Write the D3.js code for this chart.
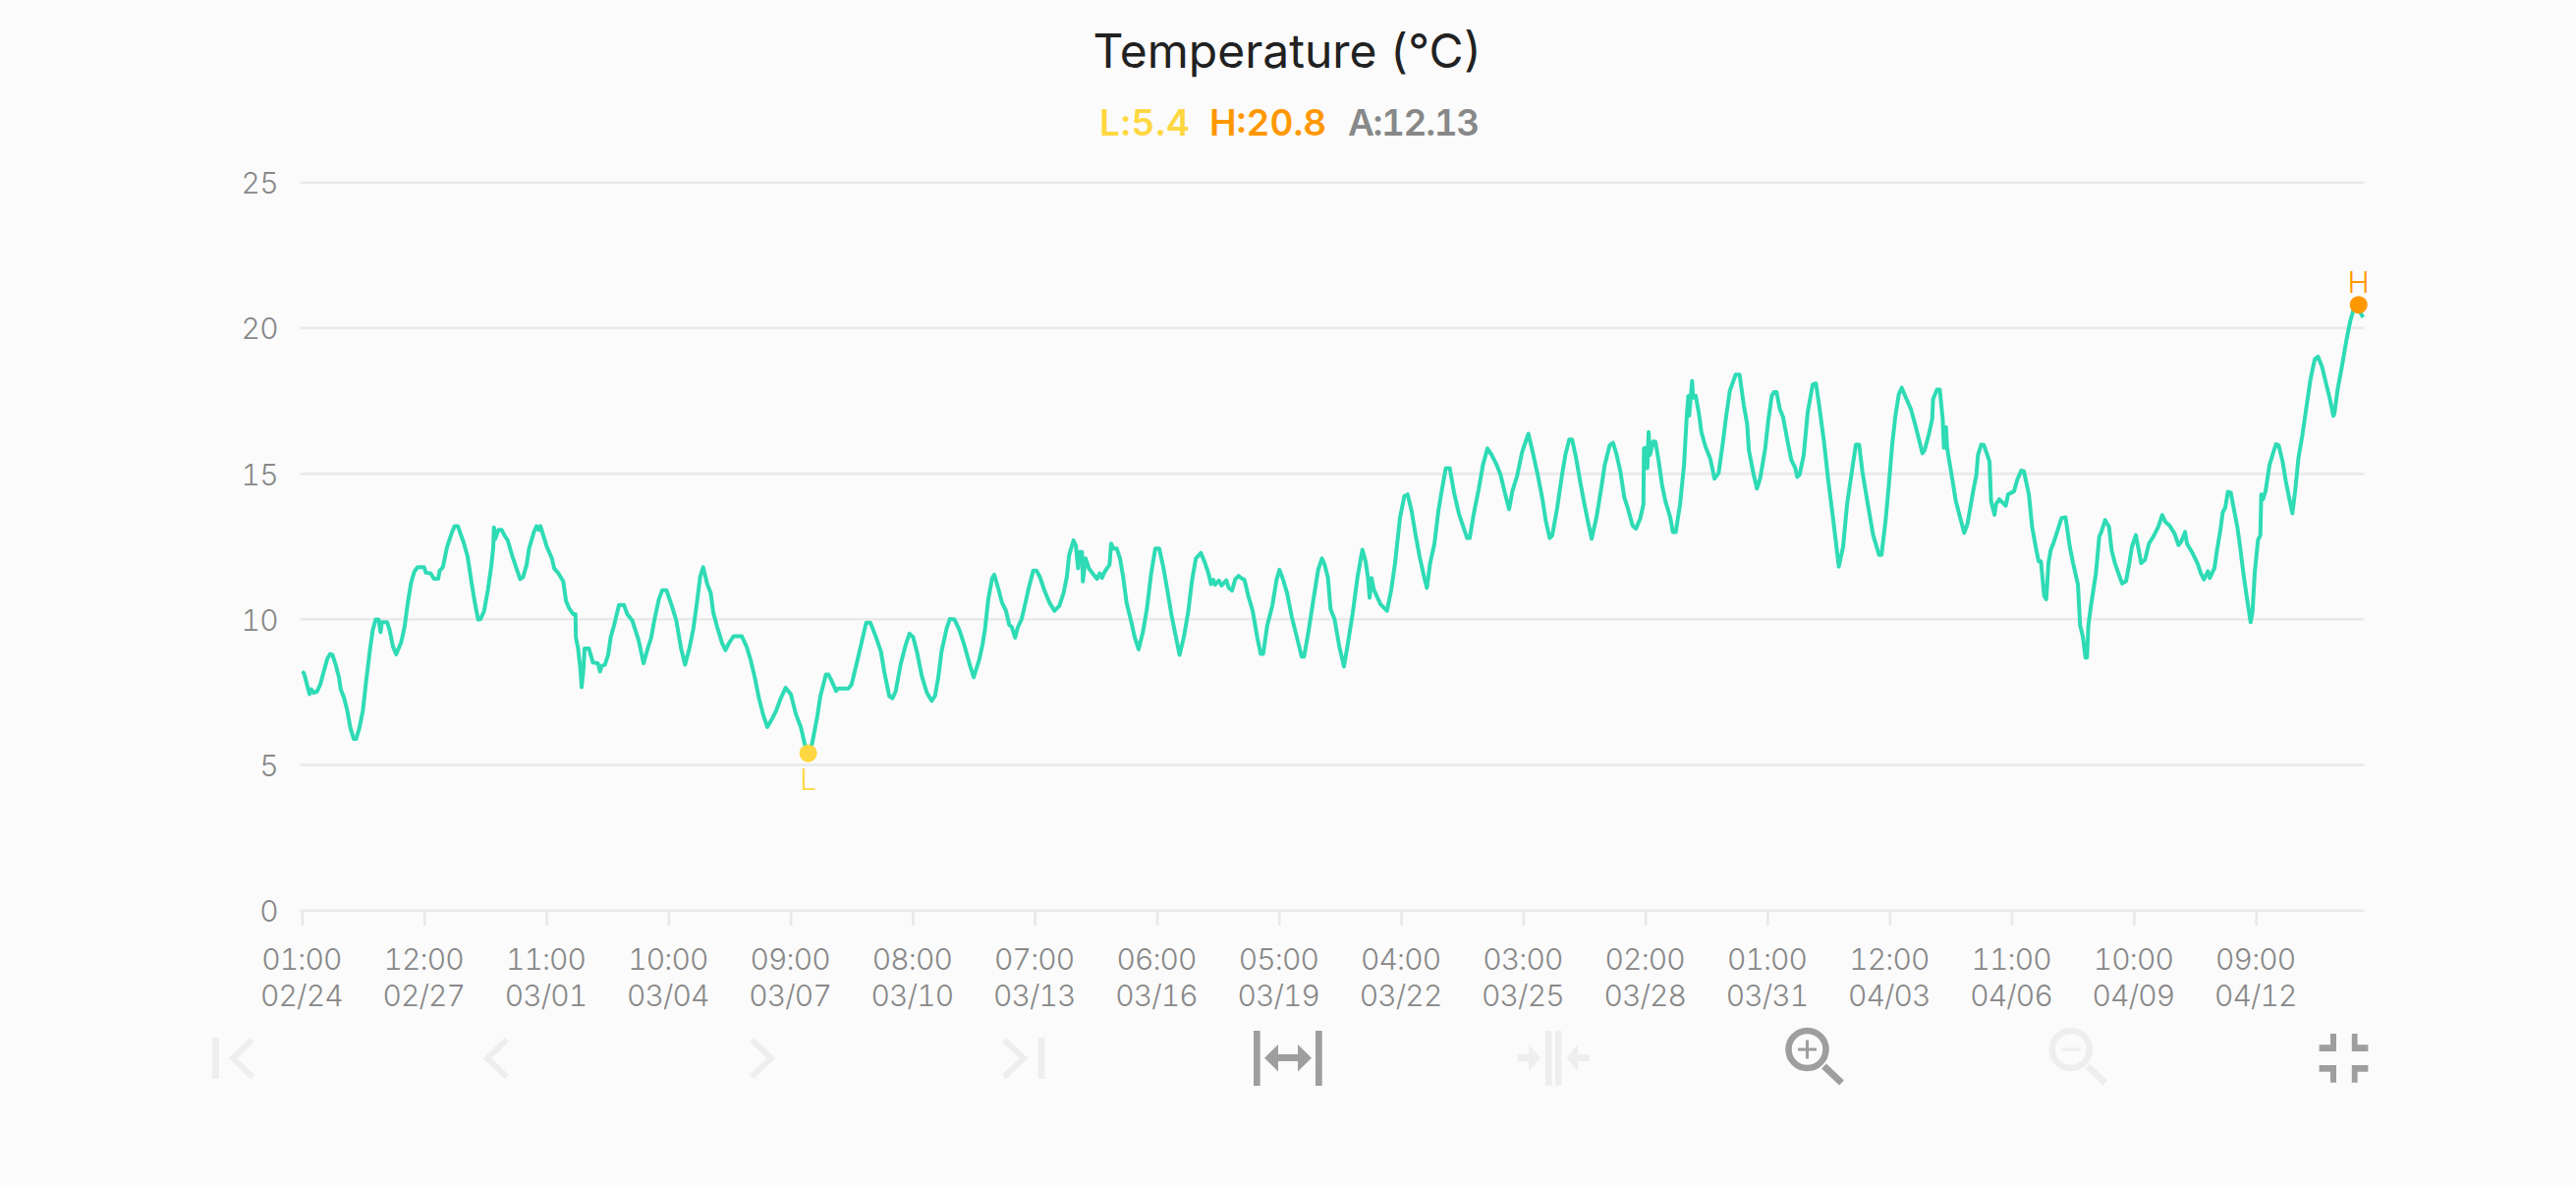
<!DOCTYPE html>
<html>
<head>
<meta charset="utf-8">
<script src="https://cdn.jsdelivr.net/npm/d3@7/dist/d3.min.js"></script>
<style>
html,body{margin:0;padding:0;background:#fbfbfb;}
svg{display:block;}
text{font-family:Inter,"Noto Sans",sans-serif;font-variant-numeric:tabular-nums;}
</style>
</head>
<body>
<script>
const hours = [0,1.1,4.4,5.3,6.8,8.7,10.6,12.6,14.8,16.4,17.7,19.6,21.5,22.5,24.4,26.3,28.2,30.1,31.4,33.3,35.4,37.3,39.6,41.1,42.8,44.5,45.7,46.4,49.5,51,52.9,54.8,57.7,59.6,61.5,63.4,65.3,67.2,71,72,74.8,76.7,79.2,80,81.9,84.3,87.2,88.7,90.6,93.9,96.3,98.6,100.5,102.4,103.8,105.9,108.1,110,111.2,111.6,112.3,114.2,116.1,117.7,119.6,122.4,125.3,126.8,128.5,130.6,132,134.8,136.3,137.6,138.6,142.4,145.3,146.6,149.1,151.9,153.5,155.4,157.6,159,159.2,160.5,161.8,162.6,163.7,164.3,166.8,169.1,172,173.3,174.2,176.1,178,179.5,181.4,184.3,187.2,189.1,192,
195.7,198.6,201,202.9,205.2,207.5,209.4,211.9,214.7,217.6,220.4,222.7,225.2,227.5,229.6,231.5,233.2,235.7,237.6,239.1,241.4,244.3,246.2,248.1,250.9,255.7,258.5,260.8,263.3,265.6,268,270.5,273.8,275.7,278.5,281.2,284.2,287.1,290,292.4,294.3,296.6,299.5,301.4,304.6,306.1,308,310.5,311.5,317.6,319.5,322.3,325.2,328,330.5,333.7,336.6,338.5,341.4,343.3,345.2,348,350.9,353.2,355.3,357.5,360.4,363.3,366.1,368,369.9,371.8,374.7,376.6,379.4,382.3,385.1,388,390.5,393.7,
395.6,397.1,399,401.3,402.5,404.7,407,409.3,411.2,412.7,414.6,416.2,418.4,420.4,422.3,425.1,427,428.9,431.8,434.6,437.5,440.3,442.8,444.7,446,448.5,449.9,451.2,452.1,453.5,454,455.6,457.5,460.3,462.2,463.8,465.1,466.4,468,469.5,470.4,471.8,473.7,475.6,477.5,479.4,482.2,484.1,486.4,488.9,491.2,493.7,496.1,498.4,500.7,503.2,505.6,507.9,510.2,512.7,515.2,517.5,519.7,522.6,524.7,527,528.5,529.8,530.8,533.1,534.6,537.4,538.8,540.7,542.6,544.5,546,547.9,550.2,552.7,555.5,557.4,558.8,561.2,564.1,566.6,568.3,570.4,572.7,575.5,578.4,581.2,582.6,585.1,587.9,590.8,593,594.6,596.5,598,600.3,603.1,605.8,607.9,610.8,613.6,616.5,618.4,
619.9,620.7,621.8,623.2,627,630.8,633.3,635.5,638.4,640.9,642.8,645.1,647.3,649.8,652.3,654,655.9,658.4,660.7,662.6,665,667.3,669.8,672.7,674.6,677.4,678.9,681.2,684.1,686.6,689.2,691.7,694.6,696.8,699.3,701.8,703.7,706.4,709.4,713,715.5,718.4,721.2,723.1,725.4,726.9,729.8,732.6,734.5,736.8,738.4,740.6,743.1,745.6,747.9,749.8,752.6,755.1,757.4,760.3,762.2,764.1,766.5,768.8,770.7,773.6,775.5,778,779.9,780.2,781.6,782.2,782.9,783.7,785.6,786.9,788.8,790.7,792.6,795.5,797,798.7,801.2,803.5,805,806,806.5,808.2,808.8,810.3,812.2,813.6,816,818.7,
821.2,823.6,825.9,827.8,830.1,833.5,835.8,838.3,840.2,841.2,844,845.9,847.8,850.7,852.6,854.5,855.8,857.3,859.2,861.1,863.6,865.9,868.2,869.3,870.7,873.1,875.4,878.3,880.2,882.1,884.9,887.2,890.3,893.5,896,898.3,901.1,903.4,905.3,907.2,909.7,912,913.5,916.9,918.3,920.7,922.6,924.5,926.4,928.4,930.1,932.5,935.4,938.3,940.2,942.1,943.4,945.9,947.8,948.3,950.6,952.2,953.9,954.6,955.8,956.5,959.2,961.5,964,966.4,968.3,971.6,973.5,974.4,976.3,977.9,981.1,982,984,984.9,986.8,990.6,991.9,995.4,997.3,999.6,1001.1,
1004,1005.9,1008.3,1009.7,1011,1012.9,1014.1,1015.4,1016.7,1018.2,1020.7,1023,1025.3,1027.8,1029.7,1032.5,1033.8,1035.4,1036.9,1037.8,1038.6,1040.1,1043,1044.9,1046.4,1048.3,1050.6,1052.1,1054,1056.3,1058.2,1060.5,1062.4,1063.9,1066.2,1069.3,1071.5,1073.8,1076.3,1079.2,1081.5,1083.4,1085.8,1088.7,1091,1092.5,1094.8,1095.9,1099.2,1102,1103.9,1105.8,1108.1,1109.2,1111.9,1113.4,1115.3,1116.7,1118.2,1119.7,1121.4,1123,1125.2,1126.8,1128.7,1130.6,1132.9,1134,1135.3,1137.2,1138.6,1139.1,1140.1,1141.6,1143.9,1146.2,1147.7,1149.2,1151.5,1153.4,1154.9,1157.2,1158.8,1160.7,1163,1165.2,1167.7,1170.2,1172.1,1174.4,1176.7,1178.6,1181,1181.6,1183.5,1185.8,1188.6,1190.9,1193.4,1195.7,1196.8,1198.3];
const temps = [8.2,8.16,7.43,7.6,7.48,7.52,7.76,8.2,8.66,8.81,8.78,8.44,8.0,7.6,7.31,6.87,6.25,5.89,5.89,6.25,6.87,7.88,9.0,9.62,9.99,9.99,9.56,9.9,9.9,9.62,9.06,8.8,9.22,9.73,10.57,11.25,11.64,11.79,11.79,11.6,11.58,11.39,11.39,11.67,11.79,12.48,12.99,13.2,13.2,12.65,12.15,11.25,10.57,9.99,10.01,10.29,11.02,11.81,12.48,13.16,12.76,13.07,13.07,12.88,12.71,12.15,11.64,11.38,11.45,11.87,12.43,12.99,13.2,13.07,13.2,12.48,12.09,11.75,11.58,11.3,10.63,10.37,10.18,10.18,9.39,9.0,8.33,7.67,8.33,9.0,9.0,8.52,8.49,8.21,8.4,8.44,8.78,9.39,9.79,10.49,10.49,10.18,9.96,
9.28,8.49,9.0,9.34,10.07,10.69,11.0,11.0,10.52,9.96,9.0,8.44,9.0,9.67,10.57,11.47,11.79,11.19,10.91,10.24,9.73,9.17,8.94,9.17,9.42,9.42,9.06,8.61,7.99,7.31,6.75,6.3,6.64,6.87,7.31,7.65,7.43,6.75,6.3,5.69,5.4,5.74,6.64,7.37,8.1,8.1,7.88,7.54,7.62,7.62,7.76,8.44,9.17,9.88,9.88,9.39,8.89,8.21,7.37,7.29,7.54,8.44,9.11,9.51,9.39,8.89,8.04,7.48,7.2,7.37,7.99,8.89,9.67,10.01,9.99,9.62,9.11,8.49,8.01,8.61,
9.11,9.67,10.69,11.42,11.53,11.08,10.57,10.29,9.81,9.73,9.37,9.73,10.01,10.52,11.02,11.67,11.67,11.47,10.97,10.57,10.29,10.46,10.91,11.47,12.2,12.71,12.54,11.75,12.31,12.31,11.3,12.09,11.75,11.53,11.39,11.58,11.42,11.6,11.75,11.87,12.6,12.43,12.43,12.09,11.42,10.57,9.9,9.39,8.97,9.56,10.35,11.58,12.43,12.43,11.81,10.97,10.12,9.45,8.78,9.39,10.24,11.36,12.09,12.28,11.98,11.58,11.21,11.36,11.19,11.33,11.16,11.34,11.08,10.99,11.38,11.49,11.42,11.36,10.8,10.29,9.34,8.81,8.81,9.79,10.46,11.36,11.7,11.36,10.91,10.07,9.39,8.72,8.72,9.56,10.63,11.7,12.09,11.87,11.42,10.35,10.01,9.06,8.38,9.11,10.18,11.42,12.39,11.98,
11.36,10.74,11.42,11.02,10.52,10.29,11.02,11.93,13.5,14.23,14.29,13.73,12.94,12.15,11.48,11.08,11.93,12.6,13.73,14.4,15.19,15.19,14.35,13.61,13.28,12.79,12.79,13.61,14.46,15.3,15.87,15.64,15.3,14.97,14.35,13.78,14.4,14.91,15.75,16.37,15.75,14.97,14.12,13.39,12.79,12.88,13.84,14.97,15.64,16.18,16.18,15.59,14.74,13.95,13.28,12.77,13.5,14.4,15.3,15.98,16.06,15.7,15.08,14.18,13.84,13.22,13.11,13.45,13.95,15.87,15.89,15.19,16.43,15.64,16.11,16.09,15.42,14.63,14.07,13.5,13,13,13.95,15.3,16.88,17.67,16.99,18.18,17.61,17.67,17.05,16.43,15.92,15.53,
14.83,15.02,15.98,16.88,17.84,18.4,18.4,17.33,16.71,15.81,14.97,14.49,14.85,15.87,16.88,17.67,17.8,17.8,17.22,16.94,16.15,15.47,15.19,14.89,14.97,15.64,17.11,18.06,18.1,17.33,16.09,14.85,13.39,11.81,12.49,13.95,15.08,16,16,15.08,14.18,13.39,12.88,12.21,12.21,13.39,14.63,15.98,16.99,17.73,17.95,17.61,17.22,16.6,16.15,15.7,15.81,16.37,16.88,17.56,17.89,17.89,16.88,15.89,16.6,15.87,14.91,14.07,13.5,12.97,13.28,14.4,14.97,15.64,16,15.98,15.42,14.07,13.59,13.95,14.12,13.9,14.29,14.4,14.8,15.11,15.08,
14.29,13.17,12.38,11.99,11.99,10.8,10.69,11.93,12.38,12.6,13.05,13.48,13.5,12.49,11.93,11.2,9.79,9.4,8.69,8.69,9.79,10.47,11.59,12.83,13.05,13.41,13.17,12.38,11.93,11.54,11.23,11.31,11.93,12.49,12.89,11.93,12.04,12.6,12.83,13.17,13.58,13.34,13.22,12.94,12.55,12.66,13.0,12.6,12.27,11.93,11.59,11.37,11.65,11.42,11.76,12.38,13.05,13.67,13.84,14.38,14.35,13.84,13.17,12.49,11.59,10.8,9.9,10.24,11.59,12.72,12.89,14.29,14.12,14.4,15.3,15.75,16.01,15.98,15.42,14.74,14.29,13.64,14.4,15.53,16.32,17.22,18.23,18.93,19.02,18.68,18.12,17.67,16.99,17.05,17.89,18.62,19.58,20.25,20.76,20.8,20.53,20.37];
const xTickHours = [0,71,142,213,284,355,426,497,568,639,710,781,852,923,994,1065,1136];
const xTickTimes = ["01:00","12:00","11:00","10:00","09:00","08:00","07:00","06:00","05:00","04:00","03:00","02:00","01:00","12:00","11:00","10:00","09:00"];
const xTickDates = ["02/24","02/27","03/01","03/04","03/07","03/10","03/13","03/16","03/19","03/22","03/25","03/28","03/31","04/03","04/06","04/09","04/12"];
const yTicks = [0,5,10,15,20,25];
const titleText = "Temperature (°C)";
const lowValue = 5.4, highValue = 20.8, avgValue = 12.13;
const lowHour = 294.3, highHour = 1195.7;

const W = 2622, H = 1206;
const svg = d3.select("body").append("svg").attr("width",W).attr("height",H).attr("viewBox",`0 0 ${W} ${H}`);
svg.append("rect").attr("width",W).attr("height",H).attr("fill","#fbfbfb");

const x = d3.scaleLinear().domain([0,1199]).range([307.4,2406.5]);
const y = d3.scaleLinear().domain([0,25]).range([926.7,185.7]);
const gridCol = "#e9e9e9", tickCol = "#888888", teal = "#2edbb5", yellow = "#ffd740", orange = "#ff9800";

// horizontal grid
const yAxis = d3.axisLeft(y).tickValues(yTicks).tickSize(0).tickPadding(0).tickFormat(d3.format("d"));
const gy = svg.append("g").attr("transform","translate(283,0)").call(yAxis);
gy.select(".domain").remove();
gy.selectAll("text").attr("fill",tickCol).attr("font-size",30).attr("font-weight",300).attr("letter-spacing",-0.6).attr("dy",null).attr("y",11).attr("x",0);
svg.append("g").selectAll("line").data(yTicks).join("line")
  .attr("x1",305.5).attr("x2",2406.5).attr("y1",d=>y(d)).attr("y2",d=>y(d))
  .attr("stroke",gridCol).attr("stroke-width",2.6);

// x axis
const xAxis = d3.axisBottom(x).tickValues(xTickHours).tickSize(15).tickFormat("");
const gx = svg.append("g").attr("transform","translate(0,927)").call(xAxis);
gx.select(".domain").remove();
gx.selectAll("line").attr("stroke",gridCol).attr("stroke-width",2.6);
const lab = gx.selectAll("g.tick").append("g");
lab.append("text").attr("text-anchor","middle").attr("x",-1).attr("y",60.4).attr("fill",tickCol).attr("font-size",30).attr("font-weight",300).attr("letter-spacing",-0.9).text((d,i)=>xTickTimes[i]);
lab.append("text").attr("text-anchor","middle").attr("x",-1).attr("y",96.6).attr("fill",tickCol).attr("font-size",30).attr("font-weight",300).attr("letter-spacing",-0.9).text((d,i)=>xTickDates[i]);

// line
const pts = hours.map((h,i)=>[h,temps[i]]);
const line = d3.line().x(d=>x(d[0])).y(d=>y(d[1])).curve(d3.curveLinear);
svg.append("path").datum(pts).attr("d",line).attr("fill","none").attr("stroke",teal).attr("stroke-width",4).attr("stroke-linejoin","round");

// markers
svg.append("circle").attr("cx",x(lowHour)).attr("cy",y(lowValue)).attr("r",9).attr("fill",yellow);
svg.append("circle").attr("cx",x(highHour)).attr("cy",y(highValue)).attr("r",9).attr("fill",orange);
svg.append("text").attr("x",x(lowHour)).attr("y",803.5).attr("text-anchor","middle").attr("fill",yellow).attr("font-size",30).attr("font-weight",300).text("L");
svg.append("text").attr("x",x(highHour)).attr("y",298).attr("text-anchor","middle").attr("fill",orange).attr("font-size",30).attr("font-weight",300).text("H");

// title + stats
svg.append("text").attr("x",1310.5).attr("y",69.3).attr("text-anchor","middle").attr("fill","#212121").attr("font-size",48).attr("font-weight",400).text(titleText);
[[`L:${lowValue}`,1119,yellow,0.8],[`H:${highValue}`,1231,orange,0],[`A:${avgValue}`,1372,tickCol,-1.4]].forEach(([t,px,c,ls])=>{
  svg.append("text").attr("x",px).attr("y",138).attr("fill",c).attr("font-size",37).attr("font-weight",600).attr("letter-spacing",ls).text(t);
});

// toolbar icons
const on = "#9e9e9e", off = "#eeeeee";
const icons = svg.append("g");
const rect=(a,b,c,d,f)=>icons.append("rect").attr("x",a).attr("y",b).attr("width",c-a).attr("height",d-b).attr("fill",f);
const chev=(tip,base,f)=>icons.append("path").attr("d",`M${base} 1058L${tip} 1077L${base} 1096`).attr("fill","none").attr("stroke",f).attr("stroke-width",6).attr("stroke-linejoin","miter");
rect(216,1056,223,1098,off); chev(237,257,off);
chev(496,516,off); chev(785,765,off);
chev(1042,1022,off); rect(1056.6,1056,1063.5,1098,off);
// expand
rect(1276,1049,1282.7,1105,on); rect(1339,1049,1345.7,1105,on);
icons.append("path").attr("fill",on).attr("d","M1287 1076.7L1301 1063V1073H1321V1063L1335 1076.7L1321 1090.5V1080H1301V1090.5Z");
// collapse
rect(1573,1049,1579.5,1105,off); rect(1583,1049,1589.5,1105,off);
icons.append("path").attr("fill",off).attr("d","M1544.7 1073H1556V1063L1568 1076.7L1556 1090.5V1080H1544.7Z");
icons.append("path").attr("fill",off).attr("d","M1617.6 1073H1606V1063L1594.4 1076.7L1606 1090.5V1080H1617.6Z");
// zoom icons
const mag=(cx,col,plus)=>{
  icons.append("circle").attr("cx",cx).attr("cy",1068).attr("r",19).attr("fill","none").attr("stroke",col).attr("stroke-width",6.5);
  icons.append("line").attr("x1",cx+17).attr("y1",1085).attr("x2",cx+35).attr("y2",1102).attr("stroke",col).attr("stroke-width",7);
  rect(cx-9.5,1066.5,cx+9.5,1069.5,col);
  if(plus) rect(cx-1.5,1058.5,cx+1.5,1077.5,col);
};
mag(1839.5,on,true); mag(2107.7,off,false);
// compress
[["M2372 1052H2378V1070H2360.6V1063.3H2372Z"],["M2393.8 1052H2399.6V1063.3H2410.4V1070H2393.8Z"],["M2360.6 1084H2378V1101.7H2372V1090.7H2360.6Z"],["M2393.8 1084H2410.4V1090.7H2399.6V1101.7H2393.8Z"]].forEach(d=>icons.append("path").attr("d",d[0]).attr("fill",on));
</script>
</body>
</html>
